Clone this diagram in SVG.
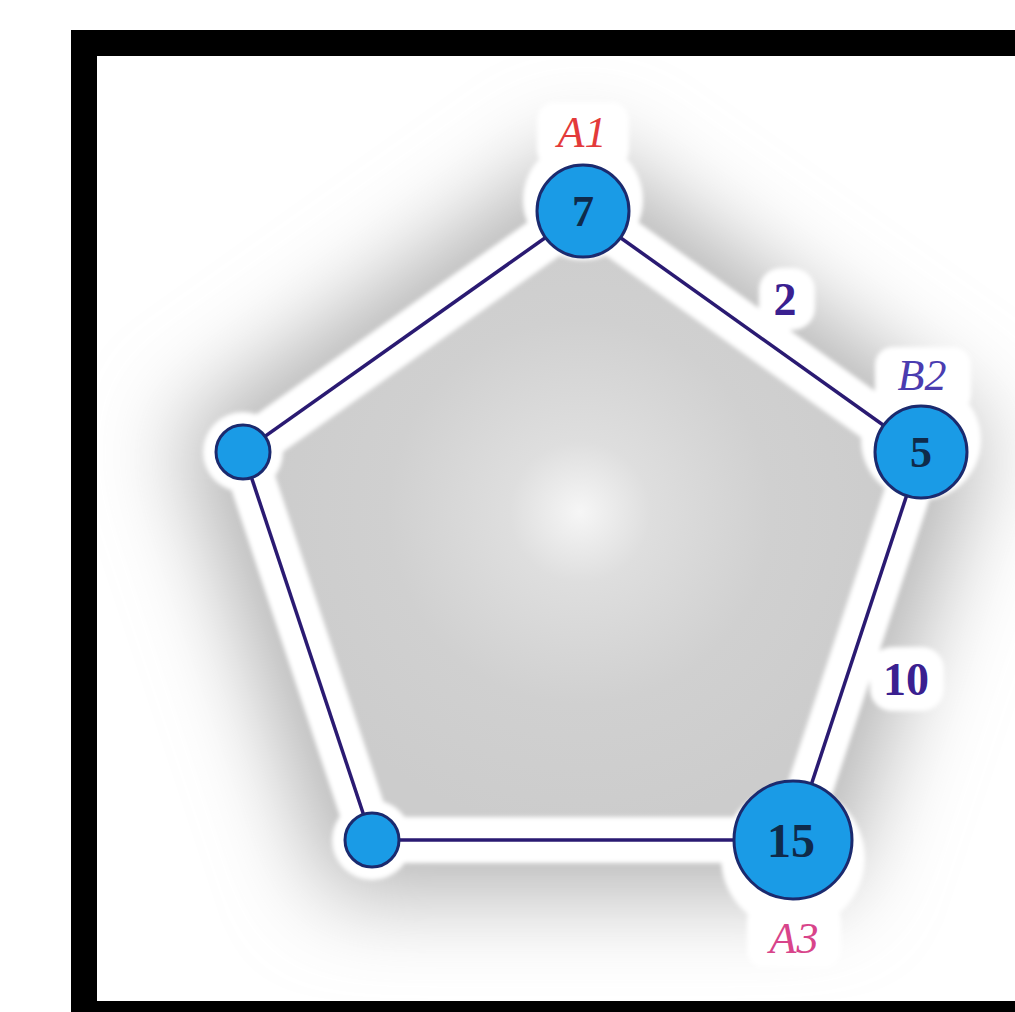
<svg xmlns="http://www.w3.org/2000/svg" width="1015" height="1012" viewBox="0 0 1015 1012">
  <defs>
    <filter id="glow" x="-50%" y="-50%" width="200%" height="200%">
      <feGaussianBlur stdDeviation="45"/>
    </filter>
    <filter id="soft" x="-20%" y="-20%" width="140%" height="140%">
      <feGaussianBlur stdDeviation="2"/>
    </filter>
    <radialGradient id="inner" cx="580" cy="512" r="320" gradientUnits="userSpaceOnUse">
      <stop offset="0" stop-color="#f6f6f6"/>
      <stop offset="0.22" stop-color="#dedede"/>
      <stop offset="0.6" stop-color="#d0d0d0"/>
      <stop offset="1" stop-color="#cccccc"/>
    </radialGradient>
    <style>
      .edge { stroke: #2a1a72; stroke-width: 3.5; fill: none; }
      .node { fill: #1a9be6; stroke: #1b2a6e; stroke-width: 3; }
      .num { font-family: "Liberation Serif", "DejaVu Serif", serif; font-weight: bold; fill: #0f2a4a; text-anchor: middle; }
      .elab { font-family: "Liberation Serif", "DejaVu Serif", serif; font-weight: bold; fill: #3a2090; text-anchor: middle; font-size: 46px; }
      .lab { font-family: "Liberation Serif", "DejaVu Serif", serif; font-style: italic; text-anchor: middle; font-size: 44px; }
    </style>
  </defs>

  <rect x="0" y="0" width="1015" height="1012" fill="#ffffff"/>

  <!-- background shading -->
  <g id="background">
    <polygon points="583,141 989,431 835,896 330,896 175,431" fill="#b6b6b6" filter="url(#glow)"/>
    <polygon points="583,211 921,452 793,840 372,840 243,452" fill="url(#inner)"/>
    <g filter="url(#soft)" fill="#ffffff">
      <polygon points="583,211 921,452 793,840 372,840 243,452" fill="none" stroke="#ffffff" stroke-width="46" stroke-linejoin="round"/>
      <circle cx="583" cy="200" r="60"/>
      <rect x="537" y="102" width="92" height="66" rx="18"/>
      <circle cx="921" cy="440" r="60"/>
      <rect x="875" y="347" width="96" height="66" rx="18"/>
      <circle cx="793" cy="858" r="72"/>
      <rect x="747" y="902" width="94" height="66" rx="18"/>
      <circle cx="243" cy="452" r="40"/>
      <circle cx="372" cy="840" r="40"/>
      <rect x="759" y="268" width="56" height="62" rx="22"/>
      <rect x="870" y="647" width="74" height="64" rx="22"/>
    </g>
  </g>

  <g id="connectors">
    <line class="edge" x1="583" y1="211" x2="921" y2="452"/>
    <line class="edge" x1="921" y1="452" x2="793" y2="840"/>
    <line class="edge" x1="793" y1="840" x2="372" y2="840"/>
    <line class="edge" x1="372" y1="840" x2="243" y2="452"/>
    <line class="edge" x1="243" y1="452" x2="583" y2="211"/>
    <text class="elab" x="785" y="315">2</text>
    <text class="elab" x="906" y="695">10</text>
  </g>

  <g id="node-A1">
    <circle class="node" cx="583" cy="211" r="46"/>
    <text class="num" x="583" y="226" font-size="44">7</text>
    <text class="lab" x="582" y="147" fill="#e33a3a">A1</text>
  </g>
  <g id="node-B2">
    <circle class="node" cx="921" cy="452" r="46"/>
    <text class="num" x="921" y="467" font-size="44">5</text>
    <text class="lab" x="922" y="390" fill="#4a3cb0">B2</text>
  </g>
  <g id="node-A3">
    <circle class="node" cx="793" cy="840" r="59"/>
    <text class="num" x="791" y="857" font-size="48">15</text>
    <text class="lab" x="794" y="953" fill="#d8448a">A3</text>
  </g>
  <g id="node-left">
    <circle class="node" cx="243" cy="452" r="27"/>
  </g>
  <g id="node-bottom-left">
    <circle class="node" cx="372" cy="840" r="27"/>
  </g>

  <!-- frame -->
  <path d="M71,30 H1030 V1030 H71 Z M97,56 V1001 H1030 V56 Z" fill="#000000" fill-rule="evenodd"/>
</svg>
